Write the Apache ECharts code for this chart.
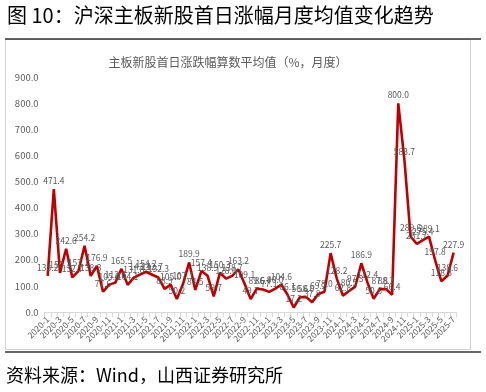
<!DOCTYPE html>
<html><head><meta charset="utf-8">
<script src="https://cdn.jsdelivr.net/npm/echarts@6/dist/echarts.min.js"></script>
<style>html,body{margin:0;padding:0;background:#fff}#c{width:486px;height:392px}</style>
</head><body><div id="c"></div>
<script>
const months = [];
for (let y = 2020; y <= 2025; y++) for (let m = 1; m <= 12; m++) { if (y === 2025 && m > 7) break; months.push(y + '-' + m); }
const values = [
  138.2, 471.4, 150.3, 242.6, 132.7, 157.1, 254.2, 138.3, 176.9, 77.6, 105.0, 112.6,
  165.5, 104.1, 131.8, 143.1, 154.2, 142.7, 132.3, 88.9, 105.0, 50.2, 107.1, 189.9,
  84.5, 157.4, 138.9, 59.7, 150.3, 128.0, 138.7, 163.2, 109.1, 49.7, 89.6, 86.4,
  77.1, 90.0, 104.6, 66.1, 17.2, 56.6, 58.0, 37.8, 69.2, 78.0, 225.7, 128.2,
  62.8, 80.5, 97.3, 186.9, 112.4, 50.6, 87.8, 88.3, 66.4, 800.0, 583.7, 289.6,
  261.7, 275.4, 289.1, 197.8, 118.3, 138.6, 227.9
];
const yTicks = [0, 100, 200, 300, 400, 500, 600, 700, 800, 900];
const titleText = '图 10：沪深主板新股首日涨幅月度均值变化趋势';
const chartTitle = '主板新股首日涨跌幅算数平均值（%，月度）';
const sourceText = '资料来源：Wind，山西证券研究所';

const ch = echarts.init(document.getElementById('c'), null, {renderer: 'canvas'});
const F = '"Noto Sans CJK SC", "Noto Sans", sans-serif';
ch.setOption({
  animation: false,
  textStyle: {fontFamily: F},
  graphic: [
    {type: 'rect', shape: {x: 5.5, y: 39.5, width: 465, height: 310}, style: {fill: 'none', stroke: '#d0d0d0', lineWidth: 1}, z: -1},
    {type: 'line', shape: {x1: 5, y1: 39, x2: 481, y2: 39}, style: {stroke: '#333', lineWidth: 1.5}},
    {type: 'line', shape: {x1: 5, y1: 352, x2: 481, y2: 352}, style: {stroke: '#333', lineWidth: 1.5}},
    {type: 'text', left: 7, top: 5, style: {text: titleText, font: '20px ' + F, fill: '#000'}},
    {type: 'text', left: 6, top: 366, style: {text: sourceText, font: '18px ' + F, fill: '#000'}},
    {type: 'text', x: 228, y: 62, style: {text: chartTitle, font: '12px ' + F, fill: '#595959', textAlign: 'center', textVerticalAlign: 'middle'}}
  ],
  grid: {left: 44.6, right: 29.3, top: 77.3, bottom: 80, containLabel: false},
  xAxis: {
    type: 'category', data: months, boundaryGap: true,
    axisLine: {lineStyle: {color: '#d9d9d9'}},
    axisTick: {show: true, interval: 0, lineStyle: {color: '#d9d9d9'}},
    axisLabel: {interval: (i) => i % 2 === 0, rotate: 45, fontSize: 8.5, color: '#595959', margin: 6, hideOverlap: false}
  },
  yAxis: {
    type: 'value', min: yTicks[0], max: yTicks[yTicks.length - 1], interval: 100,
    axisLine: {show: false}, axisTick: {show: false}, splitLine: {show: false},
    axisLabel: {fontSize: 9.5, color: '#595959', formatter: v => v.toFixed(1), margin: 6}
  },
  series: [{
    type: 'line', data: values, symbol: 'circle', symbolSize: 0.1, showSymbol: true,
    itemStyle: {color: 'rgba(192,0,0,0)'},
    lineStyle: {color: '#C00000', width: 2.6},
    label: {show: true, position: 'top', fontSize: 8.5, color: '#595959', formatter: p => p.value.toFixed(1), distance: 4},
    labelLayout: {hideOverlap: false}
  }]
});
</script></body></html>
